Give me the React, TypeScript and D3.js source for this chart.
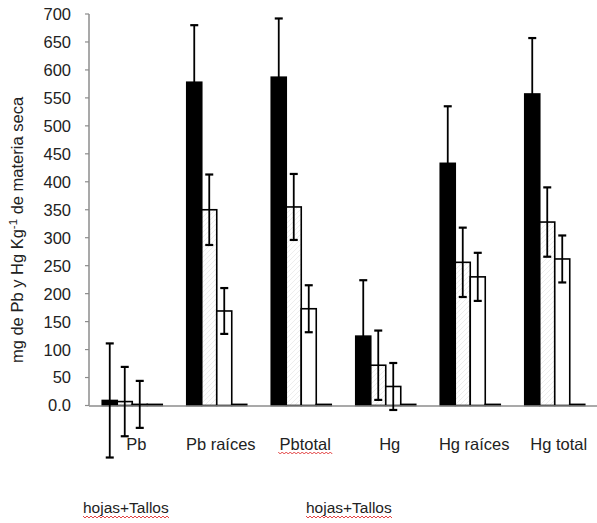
import React from "react";
import * as d3 from "d3";

const categories = ["Pb", "Pb raíces", "Pbtotal", "Hg", "Hg raíces", "Hg total"];
const seriesBlack = [9, 578, 587, 124, 433, 557];
const errBlack = [102, 102, 105, 100, 102, 100];
const seriesHatch = [7, 350, 355, 72, 256, 328];
const errHatch = [62, 63, 59, 62, 62, 62];
const seriesWhite = [2, 169, 173, 34, 230, 262];
const errWhite = [42, 41, 42, 42, 43, 42];
const seriesFlat = [2, 2, 2, 2, 2, 2];
const yTicks = [0, 50, 100, 150, 200, 250, 300, 350, 400, 450, 500, 550, 600, 650, 700];
const bottomNotes = ["hojas+Tallos", "hojas+Tallos"];

const W = 597;
const H = 523;
const FONT = "'Liberation Sans', Arial, sans-serif";

function wavy(x0: number, x1: number, y: number): string {
  const pts: [number, number][] = [];
  let up = true;
  for (let x = x0; x <= x1; x += 2) {
    pts.push([x, up ? y - 1 : y + 1]);
    up = !up;
  }
  return d3.line()(pts) || "";
}

export default function App() {
  const y = d3.scaleLinear().domain([0, 700]).range([405.5, 14]);
  const x0 = d3.scaleBand<string>().domain(categories).range([90, 597]);
  const bw = x0.bandwidth();
  const groupW = 60;
  const x1 = d3
    .scaleBand<number>()
    .domain([0, 1, 2, 3])
    .range([(bw - groupW) / 2, (bw + groupW) / 2]);
  const barW = x1.bandwidth();

  const series = [
    { values: seriesBlack, errs: errBlack, fill: "#000", stroke: "#000" },
    { values: seriesHatch, errs: errHatch, fill: "url(#hatch)", stroke: "#000" },
    { values: seriesWhite, errs: errWhite, fill: "#fff", stroke: "#000" },
    { values: seriesFlat, errs: null as number[] | null, fill: "#000", stroke: "#000" },
  ];

  const yAxisX = 89;

  return (
    <svg
      width={W}
      height={H}
      style={{ position: "absolute", left: 0, top: 0, background: "#fff" }}
      fontFamily={FONT}
    >
      <defs>
        <pattern id="hatch" patternUnits="userSpaceOnUse" width={5} height={5}>
          <rect width={5} height={5} fill="#fff" />
          <path d="M-1,1 L1,-1 M0,5 L5,0 M4,6 L6,4" stroke="#e8e8e8" strokeWidth={0.8} />
        </pattern>
      </defs>
      <rect width={W} height={H} fill="#fff" />

      {/* y axis */}
      <line x1={yAxisX} x2={yAxisX} y1={y(700)} y2={y(0)} stroke="#8c8c8c" strokeWidth={1.5} />
      {yTicks.map((t) => (
        <g key={t}>
          <line x1={yAxisX - 4} x2={yAxisX} y1={y(t)} y2={y(t)} stroke="#8c8c8c" strokeWidth={1.2} />
          <text
            x={71}
            y={y(t)}
            dy="0.36em"
            textAnchor="end"
            fontSize={16.5}
            fill="#222"
          >
            {t === 0 ? "0.0" : String(t)}
          </text>
        </g>
      ))}

      {/* y title */}
      <text
        transform={`translate(23,230) rotate(-90)`}
        textAnchor="middle"
        fontSize={16.5}
        fill="#222"
      >
        mg de Pb y Hg Kg
        <tspan dy={-6} fontSize={11.5}>-1</tspan>
        <tspan dy={6}> de materia seca</tspan>
      </text>

      {/* bars */}
      {series.map((s, si) => (
        <g key={si}>
          {categories.map((c, ci) => {
            const xb = (x0(c) as number) + (x1(si) as number);
            const v = s.values[ci];
            return (
              <rect
                key={c}
                x={xb}
                y={y(v)}
                width={barW}
                height={y(0) - y(v)}
                fill={s.fill}
                stroke={s.stroke}
                strokeWidth={1.6}
              />
            );
          })}
        </g>
      ))}

      {/* x axis */}
      <line x1={yAxisX} x2={W} y1={y(0) + 0.5} y2={y(0) + 0.5} stroke="#8c8c8c" strokeWidth={1.5} />

      {/* error bars */}
      {series.map((s, si) =>
        s.errs
          ? categories.map((c, ci) => {
              const cx = (x0(c) as number) + (x1(si) as number) + barW / 2;
              const v = s.values[ci];
              const e = s.errs![ci];
              const yt = y(v + e);
              const yb = y(v - e);
              return (
                <g key={`${si}-${c}`} stroke="#000">
                  <line x1={cx} x2={cx} y1={yt} y2={yb} strokeWidth={1.8} />
                  <line x1={cx - 4} x2={cx + 4} y1={yt} y2={yt} strokeWidth={2.2} />
                  <line x1={cx - 4} x2={cx + 4} y1={yb} y2={yb} strokeWidth={2.2} />
                </g>
              );
            })
          : null
      )}

      {/* category labels */}
      {categories.map((c) => (
        <text
          key={c}
          x={(x0(c) as number) + bw / 2 + 4}
          y={450}
          textAnchor="middle"
          fontSize={16.5}
          fill="#222"
        >
          {c}
        </text>
      ))}
      {/* spell-check underline under Pbtotal */}
      <path
        d={wavy((x0("Pbtotal") as number) + bw / 2 + 4 - 27, (x0("Pbtotal") as number) + bw / 2 + 4 + 27, 453)}
        fill="none"
        stroke="#e03030"
        strokeWidth={0.9}
      />

      {/* bottom notes */}
      {bottomNotes.map((n, i) => {
        const xs = i === 0 ? 83 : 306;
        return (
          <g key={i}>
            <text x={xs} y={513} fontSize={15.5} fill="#222">
              {n}
            </text>
            <path d={wavy(xs, xs + 86, 517)} fill="none" stroke="#e03030" strokeWidth={0.9} />
          </g>
        );
      })}
    </svg>
  );
}
